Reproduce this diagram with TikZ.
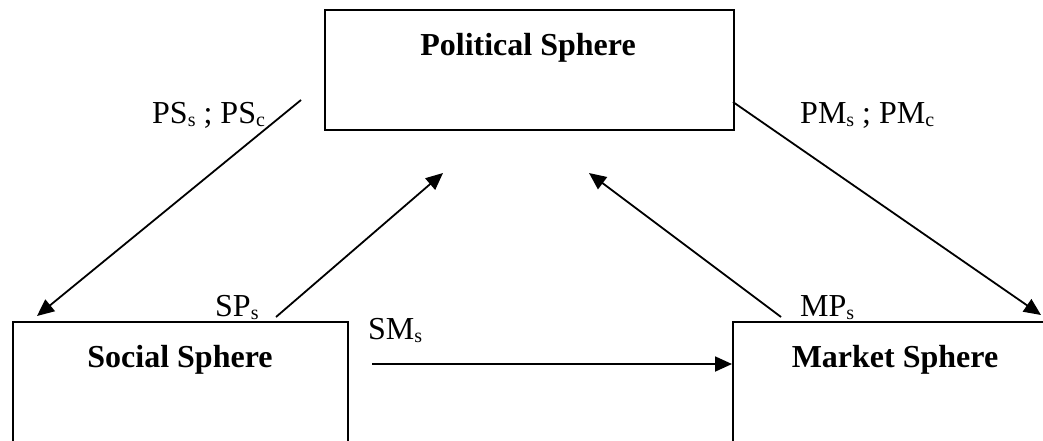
\documentclass[tikz,border=0pt]{standalone}
\usepackage{fontspec}
\setmainfont{Liberation Serif}
\usetikzlibrary{arrows.meta}
\newcommand{\lsub}[1]{\raisebox{-3pt}{\fontsize{20}{22}\selectfont #1}}
\begin{document}
\begin{tikzpicture}[x=1pt,y=-1pt,
  sphere/.style={draw,line width=1.8pt,inner sep=0pt},
  title/.style={inner sep=0pt,font=\fontsize{32}{38}\selectfont\bfseries,anchor=base},
  lbl/.style={inner sep=0pt,font=\fontsize{32}{38}\selectfont,anchor=base west},
  flow/.style={line width=1.8pt,-{Triangle[length=17pt,width=15pt]}}]
\useasboundingbox (0,0) rectangle (1043,440);
\clip (0,0) rectangle (1043,440);
% boxes
\node[sphere,minimum width=409pt,minimum height=120pt,anchor=north west] (pol) at (324,9) {};
\node[sphere,minimum width=335pt,minimum height=140pt,anchor=north west] (soc) at (12,321) {};
\node[sphere,minimum width=340pt,minimum height=140pt,anchor=north west] (mar) at (732,321) {};
% titles
\node[title] (polt) at (528,55) {Political Sphere};
\node[title] (soct) at (180,367) {Social Sphere};
\node[title] (mart) at (895,367) {Market Sphere};
% labels
\node[lbl] (lps) at (152,123) {PS\lsub{s} ; PS\lsub{c}};
\node[lbl] (lpm) at (800,123) {PM\lsub{s} ; PM\lsub{c}};
\node[lbl] (lsp) at (215,316) {SP\lsub{s}};
\node[lbl] (lmp) at (800,316) {MP\lsub{s}};
\node[lbl] (lsm) at (368,339) {SM\lsub{s}};
% arrow endpoints
\coordinate (ps1) at (301,100);
\coordinate (ps2) at (37,316);
\coordinate (sp1) at (276,317);
\coordinate (sp2) at (443,173);
\coordinate (mp1) at (781,317);
\coordinate (mp2) at (589,173);
\coordinate (pm1) at (733,102);
\coordinate (pm2) at (1041,315);
\coordinate (sm1) at (372,364);
\coordinate (sm2) at (732,364);
\draw[flow] (ps1) -- (ps2);
\draw[flow] (sp1) -- (sp2);
\draw[flow] (mp1) -- (mp2);
\draw[flow] (pm1) -- (pm2);
\draw[flow] (sm1) -- (sm2);
\end{tikzpicture}
\end{document}
